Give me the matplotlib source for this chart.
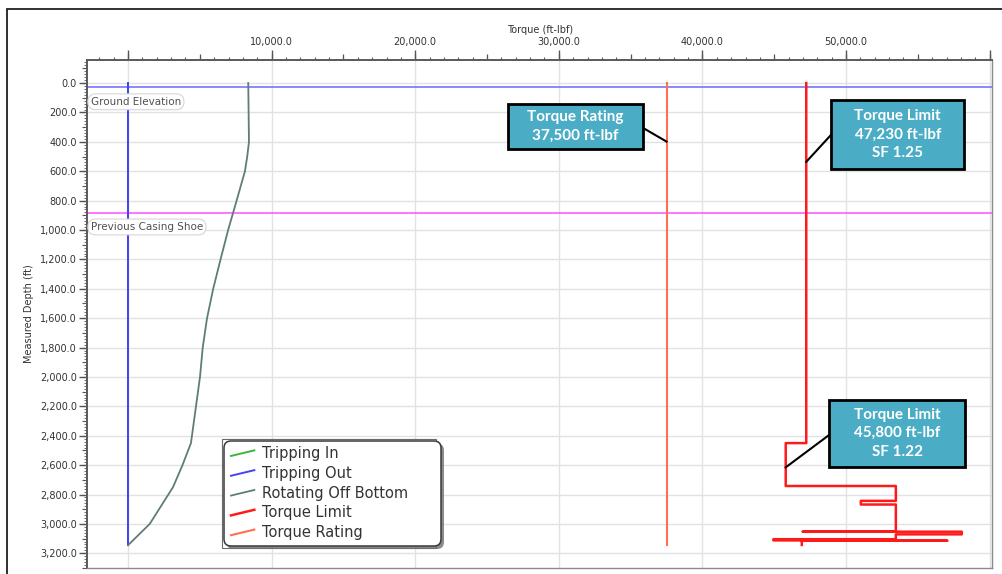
import numpy as np
import matplotlib
matplotlib.use("Agg")
import matplotlib.pyplot as plt
from matplotlib.lines import Line2D
from matplotlib.patches import Rectangle, FancyBboxPatch
from matplotlib.legend_handler import HandlerBase
from matplotlib.ticker import MultipleLocator, FuncFormatter, NullFormatter, FixedLocator
import matplotlib.transforms as mtransforms

# ---------------- data ----------------
# Tripping in / out (ft-lbf vs measured depth, ft)
trip_in_torque = [0, 0]
trip_in_depth = [0, 3145]
trip_out_torque = [0, 0]
trip_out_depth = [0, 3145]

# Rotating off bottom torque profile
rob_depth = [0, 400, 500, 600, 800, 1000, 1200, 1400, 1600, 1800, 2000, 2200, 2450, 2600, 2750, 3000, 3145]
rob_torque = [8370, 8420, 8300, 8140, 7560, 6970, 6440, 5930, 5500, 5200, 5010, 4730, 4380, 3790, 3130, 1510, 0]

# Torque limit of the string components along depth
limit_torque = [47230, 47230, 45800, 45800, 53470, 53470, 51030, 51030, 53470, 53470,
                46990, 58060, 58060, 53470, 53470, 44940, 44940, 57060, 46920, 46920]
limit_depth = [0, 2450, 2450, 2742, 2742, 2843, 2843, 2868, 2868, 3053,
               3053, 3053, 3071, 3071, 3104, 3104, 3112, 3114, 3114, 3143]

# Connection torque rating
rating_torque = [37500, 37500]
rating_depth = [0, 3145]

# Reference depths
ground_elevation = 30
casing_shoe = 882

# Callout values
rating_value = 37500
limit_value_top = 47230
limit_sf_top = 1.25
limit_value_bottom = 45800
limit_sf_bottom = 1.22
limit_bottom_depth = 2615

x_ticks = [0, 10000, 20000, 30000, 40000, 50000, 60000]

# ---------------- figure ----------------
W, H = 1003, 574
fig = plt.figure(figsize=(W / 100, H / 100), dpi=100)
ax = fig.add_axes([86.7 / W, 1 - 568 / H, (992.5 - 86.7) / W, (568 - 60) / H])
ax.set_xlim(-2880, 60200)
ax.set_ylim(3300, -157)


def px_box(x0, y0, x1, y1):
    """Convert a pixel box (top-left origin) to inches for fig.dpi_scale_trans."""
    return x0 / 100, (H - y1) / 100, (x1 - x0) / 100, (y1 - y0) / 100


# outer frame of the figure
fig.patches.append(Rectangle((7 / W, -0.1), 1.2, 1 - 9 / H + 0.1, transform=fig.transFigure,
                             fill=False, ec='#202020', lw=1.3))

ax.set_axisbelow(True)
ax.grid(True, which='major', color='#e2e2e2', lw=1.0)

# reference horizontal lines
ax.axhline(ground_elevation, color='#6a6aff', lw=1.1, zorder=2)
ax.axhline(casing_shoe, color='#ff50ff', lw=1.1, zorder=2)

# series
ax.plot(trip_in_torque, trip_in_depth, color='#3cb43c', lw=1.4, label='Tripping In', zorder=3)
ax.plot(trip_out_torque, trip_out_depth, color='#4343f5', lw=1.4, label='Tripping Out', zorder=4)
ax.plot(rob_torque, rob_depth, color='#5f7d78', lw=1.3, label='Rotating Off Bottom', zorder=4)
ax.plot(limit_torque, limit_depth, color='#ff1a1a', lw=1.8, label='Torque Limit', zorder=4)
ax.plot(rating_torque, rating_depth, color='#ff7050', lw=1.5, label='Torque Rating', zorder=4)

# ---------------- axes styling ----------------
ax.xaxis.tick_top()
ax.xaxis.set_label_position('top')
ax.xaxis.set_major_locator(FixedLocator(x_ticks))
ax.xaxis.set_minor_locator(MultipleLocator(1000))
ax.xaxis.set_major_formatter(FuncFormatter(
    lambda v, p: '' if v in (0, 60000) else f'{v:,.1f}'))
ax.yaxis.set_major_locator(MultipleLocator(200))
ax.yaxis.set_minor_locator(MultipleLocator(20))
ax.yaxis.set_major_formatter(FuncFormatter(lambda v, p: f'{v:,.1f}'))

ax.tick_params(axis='x', which='major', length=7.5, width=1.0, color='#555555',
               labelsize=7, labelcolor='#333333', pad=1.5)
ax.tick_params(axis='x', which='minor', length=2.2, width=0.8, color='#555555')
ax.tick_params(axis='y', which='major', length=6, width=1.0, color='#555555',
               labelsize=7, labelcolor='#333333', pad=1)
ax.tick_params(axis='y', which='minor', length=2.2, width=0.6, color='#555555')

# intermediate tick marks
secx = ax.secondary_xaxis('top')
secx.xaxis.set_major_locator(MultipleLocator(5000))
secx.xaxis.set_minor_locator(FixedLocator([]))
secx.xaxis.set_major_formatter(NullFormatter())
secx.tick_params(length=4.5, width=0.9, color='#555555')
secx.spines['top'].set_visible(False)

secy = ax.secondary_yaxis('left')
secy.yaxis.set_major_locator(MultipleLocator(100))
secy.yaxis.set_minor_locator(FixedLocator([]))
secy.yaxis.set_major_formatter(NullFormatter())
secy.tick_params(length=3.5, width=0.8, color='#555555')
secy.spines['left'].set_visible(False)

for side in ['top', 'left']:
    ax.spines[side].set_color('#5a5a5a')
    ax.spines[side].set_linewidth(1.4)
for side in ['right', 'bottom']:
    ax.spines[side].set_color('#8a8a8a')
    ax.spines[side].set_linewidth(1.0)

ax.set_xlabel('Torque (ft-lbf)', fontsize=7, color='#333333', labelpad=3.5)
ax.set_ylabel('Measured Depth (ft)', fontsize=7, color='#333333', labelpad=4)

# ---------------- reference labels ----------------
blend = mtransforms.blended_transform_factory(ax.transAxes, ax.transData)
pill = dict(boxstyle='round,pad=0.28,rounding_size=0.75', fc='white', ec='#d6d6d6', lw=0.8)
for name, depth in [('Ground Elevation', ground_elevation), ('Previous Casing Shoe', casing_shoe)]:
    ax.annotate(name, xy=(0.003, depth), xycoords=blend, xytext=(1, -10.3),
                textcoords='offset points', ha='left', va='center', fontsize=7.5,
                color='#505050', bbox=pill, zorder=6)

# ---------------- callouts ----------------
teal = '#4bacc6'
callout_font = dict(family=['Lato', 'DejaVu Sans'], weight='bold', color='white',
                    fontsize=11, ha='center', va='center', linespacing=1.4, zorder=8)


def callout(x0, x1, d0, d1, text, anchor_y, target):
    ax.add_patch(Rectangle((x0, d0), x1 - x0, d1 - d0, fc=teal, ec='black', lw=2, zorder=7))
    ax.text((x0 + x1) / 2, (d0 + d1) / 2, text, **callout_font)
    edge_x = x1 if target[0] > x1 else x0
    ax.plot([edge_x, target[0]], [anchor_y, target[1]], color='black', lw=1.5, zorder=6)


callout(26460, 35840, 143, 449, f'Torque Rating\n{rating_value:,} ft-lbf', 304,
        (rating_torque[0], 398))
callout(48960, 58240, 114, 586,
        f'Torque Limit\n{limit_value_top:,} ft-lbf\nSF {limit_sf_top:.2f}', 352,
        (limit_value_top, 536))
callout(48820, 58290, 2156, 2610,
        f'Torque Limit\n{limit_value_bottom:,} ft-lbf\nSF {limit_sf_bottom:.2f}', 2395,
        (limit_value_bottom, limit_bottom_depth))


# ---------------- legend ----------------
class SlantedLine(HandlerBase):
    def create_artists(self, legend, orig_handle, xdescent, ydescent, width, height,
                       fontsize, trans):
        ln = Line2D([-xdescent, -xdescent + width],
                    [-ydescent + 0.2 * height, -ydescent + 0.75 * height],
                    color=orig_handle.get_color(), lw=orig_handle.get_linewidth(),
                    transform=trans)
        return [ln]


# legend panel: thin outer rectangle, shadow and rounded frame
fig.patches.append(Rectangle(px_box(222, 439, 436, 548)[:2], *px_box(222, 439, 436, 548)[2:],
                             transform=fig.dpi_scale_trans, fill=False, ec='#6a6a6a',
                             lw=0.8, zorder=5))
fig.patches.append(FancyBboxPatch(px_box(226.5, 443.5, 444, 549)[:2],
                                  *px_box(226.5, 443.5, 444, 549)[2:],
                                  boxstyle='round,pad=0,rounding_size=0.07',
                                  transform=fig.dpi_scale_trans, fc='#6e6e6e', ec='none',
                                  alpha=0.8, zorder=5))
fig.patches.append(FancyBboxPatch(px_box(224, 441, 441, 546)[:2],
                                  *px_box(224, 441, 441, 546)[2:],
                                  boxstyle='round,pad=0,rounding_size=0.07',
                                  transform=fig.dpi_scale_trans, fc='white', ec='#3a3a3a',
                                  lw=1.1, zorder=5))

handles, labels = ax.get_legend_handles_labels()
leg = fig.legend(handles, labels, loc='upper left',
                 bbox_to_anchor=(231 / W, 1 - 446 / H), bbox_transform=fig.transFigure,
                 borderaxespad=0, fontsize=10.5, frameon=False,
                 handlelength=1.6, handletextpad=0.55, labelspacing=0.33,
                 borderpad=0, handler_map={Line2D: SlantedLine()})
for t in leg.get_texts():
    t.set_color('#333333')
leg.set_zorder(9)

fig.savefig('out.png', dpi=100)
